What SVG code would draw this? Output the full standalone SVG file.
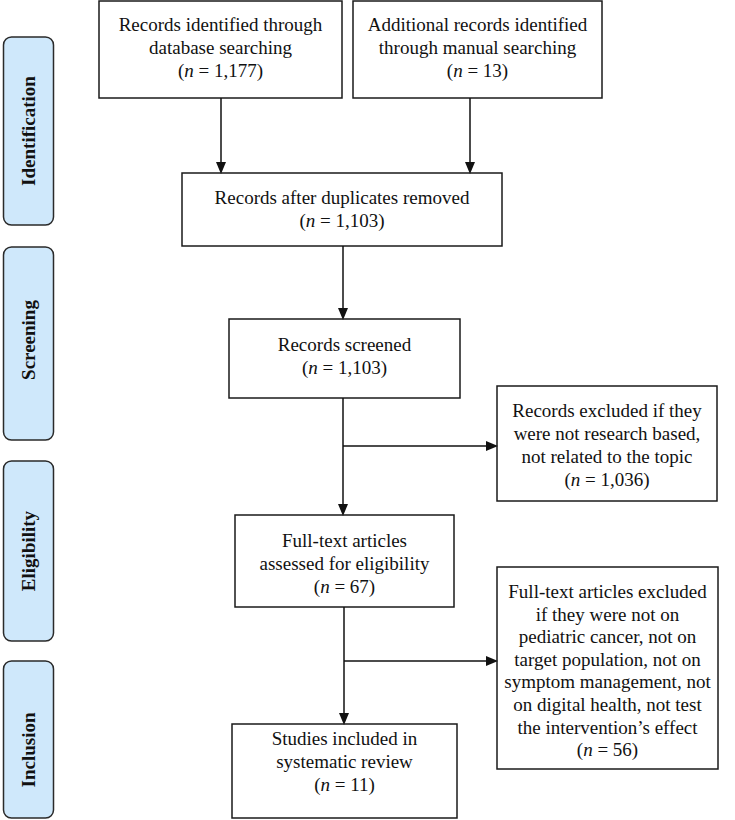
<svg xmlns="http://www.w3.org/2000/svg" width="735" height="820" viewBox="0 0 735 820">
<style>
.box{fill:#fff;stroke:#1a1a1a;stroke-width:1.5}
.lab{fill:#cfe8fb;stroke:#2a2a2a;stroke-width:1.5}
.t{font-family:"Liberation Serif","Times New Roman",serif;font-size:19px;fill:#111;text-anchor:middle}
.lt{font-family:"Liberation Serif","Times New Roman",serif;font-size:19px;font-weight:bold;fill:#111;text-anchor:middle}
.c{fill:none;stroke:#111;stroke-width:1.5}
.i{font-style:italic}
</style>
<defs>
<marker id="ah" markerUnits="userSpaceOnUse" markerWidth="12" markerHeight="11" viewBox="0 0 12 10" refX="5" refY="5" orient="auto">
<path d="M0,0 L12,5 L0,10 z" fill="#111"/>
</marker>
</defs>
<g id="stage-identification">
<rect class="lab" x="3.5" y="37" width="50" height="188" rx="8"/>
<text class="lt" transform="translate(34.5,131) rotate(-90)">Identification</text>
</g>
<g id="stage-screening">
<rect class="lab" x="3.5" y="247" width="50" height="193" rx="8"/>
<text class="lt" transform="translate(34.5,340) rotate(-90)">Screening</text>
</g>
<g id="stage-eligibility">
<rect class="lab" x="3.5" y="461" width="50" height="180" rx="8"/>
<text class="lt" transform="translate(34.5,551) rotate(-90)">Eligibility</text>
</g>
<g id="stage-inclusion">
<rect class="lab" x="3.5" y="661" width="50" height="157" rx="8"/>
<text class="lt" transform="translate(34.5,750) rotate(-90)">Inclusion</text>
</g>
<g id="database">
<rect class="box" x="99" y="1" width="243" height="97"/>
<text class="t" x="220.5" y="31">Records identified through</text>
<text class="t" x="220.5" y="54">database searching</text>
<text class="t" x="220.5" y="77">(<tspan class="i">n</tspan> = 1,177)</text>
</g>
<g id="manual">
<rect class="box" x="353" y="1" width="249" height="97"/>
<text class="t" x="477.5" y="31">Additional records identified</text>
<text class="t" x="477.5" y="54">through manual searching</text>
<text class="t" x="477.5" y="77">(<tspan class="i">n</tspan> = 13)</text>
</g>
<g id="duplicates">
<rect class="box" x="182" y="173" width="320" height="73"/>
<text class="t" x="342" y="204">Records after duplicates removed</text>
<text class="t" x="342" y="227">(<tspan class="i">n</tspan> = 1,103)</text>
</g>
<g id="screened">
<rect class="box" x="229" y="319" width="231" height="79"/>
<text class="t" x="344.5" y="351">Records screened</text>
<text class="t" x="344.5" y="374">(<tspan class="i">n</tspan> = 1,103)</text>
</g>
<g id="excluded1">
<rect class="box" x="497" y="386" width="220" height="115"/>
<text class="t" x="607" y="417">Records excluded if they</text>
<text class="t" x="607" y="440">were not research based,</text>
<text class="t" x="607" y="463">not related to the topic</text>
<text class="t" x="607" y="486">(<tspan class="i">n</tspan> = 1,036)</text>
</g>
<g id="fulltext">
<rect class="box" x="235" y="515" width="219" height="92"/>
<text class="t" x="344.5" y="547">Full-text articles</text>
<text class="t" x="344.5" y="570">assessed for eligibility</text>
<text class="t" x="344.5" y="593">(<tspan class="i">n</tspan> = 67)</text>
</g>
<g id="excluded2">
<rect class="box" x="497" y="567" width="221" height="202"/>
<text class="t" x="607.5" y="598">Full-text articles excluded</text>
<text class="t" x="607.5" y="620.6">if they were not on</text>
<text class="t" x="607.5" y="643.2">pediatric cancer, not on</text>
<text class="t" x="607.5" y="665.8">target population, not on</text>
<text class="t" x="607.5" y="688.4">symptom management, not</text>
<text class="t" x="607.5" y="711">on digital health, not test</text>
<text class="t" x="607.5" y="733.6">the intervention’s effect</text>
<text class="t" x="607.5" y="756.2">(<tspan class="i">n</tspan> = 56)</text>
</g>
<g id="included">
<rect class="box" x="232" y="724" width="225" height="94"/>
<text class="t" x="344.5" y="745">Studies included in</text>
<text class="t" x="344.5" y="768">systematic review</text>
<text class="t" x="344.5" y="791">(<tspan class="i">n</tspan> = 11)</text>
</g>
<g id="connectors">
<path class="c" d="M221,98 V167" marker-end="url(#ah)"/>
<path class="c" d="M470,98 V167" marker-end="url(#ah)"/>
<path class="c" d="M343,246 V313" marker-end="url(#ah)"/>
<path class="c" d="M343,398 V509" marker-end="url(#ah)"/>
<path class="c" d="M343,446 H491" marker-end="url(#ah)"/>
<path class="c" d="M344,607 V718" marker-end="url(#ah)"/>
<path class="c" d="M344,661 H491" marker-end="url(#ah)"/>
</g>
</svg>
